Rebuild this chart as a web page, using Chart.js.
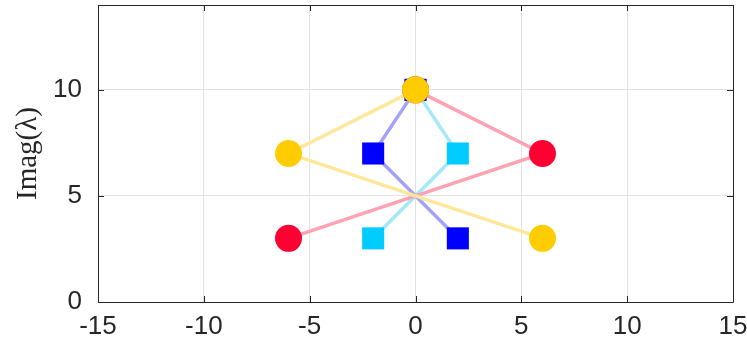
<!DOCTYPE html>
<html>
<head>
<meta charset="utf-8">
<script src="https://cdn.jsdelivr.net/npm/chart.js@4/dist/chart.umd.min.js"></script>
<style>
  html, body { margin: 0; padding: 0; background: #ffffff; }
  #wrap { width: 747px; height: 342px; }
</style>
</head>
<body>
<div id="wrap"><canvas id="c" width="747" height="342"></canvas></div>
<script>
// ---- data ----
const xTicks = [-15, -10, -5, 0, 5, 10, 15];
const yTicks = [0, 5, 10];
const xRange = [-15, 15];
const yRange = [0, 14];

const blueX = [0, -2, 2];
const blueY = [10, 7, 3];
const cyanX = [0, 2, -2];
const cyanY = [10, 7, 3];
const redX = [0, 6, -6];
const redY = [10, 7, 3];
const yellowX = [0, -6, 6];
const yellowY = [10, 7, 3];

const yLabel = 'Imag(\u03bb)';

function pts(xs, ys) { return xs.map((x, i) => ({ x: x, y: ys[i] })); }

function lineSet(xs, ys, color, order) {
  return {
    data: pts(xs, ys), showLine: true, borderColor: color, borderWidth: 3.5,
    pointRadius: 0, pointHoverRadius: 0, order: order, fill: false
  };
}
function markSet(xs, ys, color, style, radius, order) {
  return {
    data: pts(xs, ys), showLine: false, pointStyle: style, pointRadius: radius,
    pointHoverRadius: radius, pointBackgroundColor: color, pointBorderColor: color,
    pointBorderWidth: 0, order: order
  };
}

const frame = {
  id: 'frame',
  afterDraw(chart) {
    const { ctx, chartArea: a, scales: { x, y } } = chart;
    ctx.save();
    ctx.strokeStyle = '#262626';
    ctx.lineWidth = 1;
    ctx.beginPath();
    ctx.rect(Math.round(a.left) + 0.5, Math.round(a.top) + 0.5,
             Math.round(a.right - a.left), Math.round(a.bottom - a.top));
    const tl = 6;
    xTicks.forEach(v => {
      const px = Math.round(x.getPixelForValue(v)) + 0.5;
      ctx.moveTo(px, a.bottom); ctx.lineTo(px, a.bottom - tl);
      ctx.moveTo(px, a.top); ctx.lineTo(px, a.top + tl);
    });
    yTicks.forEach(v => {
      const py = Math.round(y.getPixelForValue(v)) + 0.5;
      ctx.moveTo(a.left, py); ctx.lineTo(a.left + tl, py);
      ctx.moveTo(a.right, py); ctx.lineTo(a.right - tl, py);
    });
    ctx.stroke();
    ctx.restore();
  }
};

const tickFamily = '"Liberation Sans", Arial, sans-serif';

new Chart(document.getElementById('c'), {
  type: 'scatter',
  data: {
    datasets: [
      lineSet(cyanX, cyanY, '#a3e9fa', 20),
      lineSet(blueX, blueY, '#a3a3f8', 19),
      lineSet(redX, redY, '#ffa3b3', 18),
      lineSet(yellowX, yellowY, '#ffe89c', 17),
      markSet(cyanX, cyanY, '#00ccff', 'rect', 15.6, 8),
      markSet(blueX, blueY, '#0000ff', 'rect', 15.6, 7),
      markSet(redX, redY, '#ff0033', 'circle', 13.5, 6),
      markSet(yellowX, yellowY, '#ffcc00', 'circle', 13.5, 5)
    ]
  },
  options: {
    responsive: false,
    animation: false,
    events: [],
    layout: { autoPadding: false, padding: { top: 5, right: 14, left: 0, bottom: 0 } },
    plugins: { legend: { display: false }, tooltip: { enabled: false } },
    scales: {
      x: {
        type: 'linear', min: xRange[0], max: xRange[1],
        afterBuildTicks: s => { s.ticks = xTicks.map(v => ({ value: v })); },
        afterFit: s => { s.height = 40; s.paddingLeft = 0; s.paddingRight = 0; },
        ticks: { font: { family: tickFamily, size: 26 }, color: '#262626', padding: 9, maxRotation: 0 },
        grid: { color: '#e3e3e3', lineWidth: 1, drawTicks: false },
        border: { display: false }
      },
      y: {
        type: 'linear', min: yRange[0], max: yRange[1],
        afterBuildTicks: s => { s.ticks = yTicks.map(v => ({ value: v })); },
        afterFit: s => { s.width = 98; s.paddingTop = 0; s.paddingBottom = 0; },
        ticks: { font: { family: tickFamily, size: 26 }, color: '#262626', padding: 16 },
        grid: { color: '#e3e3e3', lineWidth: 1, drawTicks: false },
        border: { display: false },
        title: {
          display: true, text: yLabel, color: '#262626',
          font: { family: '"Liberation Serif", "DejaVu Serif", serif', size: 29 },
          padding: { top: 11, bottom: 0 }
        }
      }
    }
  },
  plugins: [frame]
});
</script>
</body>
</html>
